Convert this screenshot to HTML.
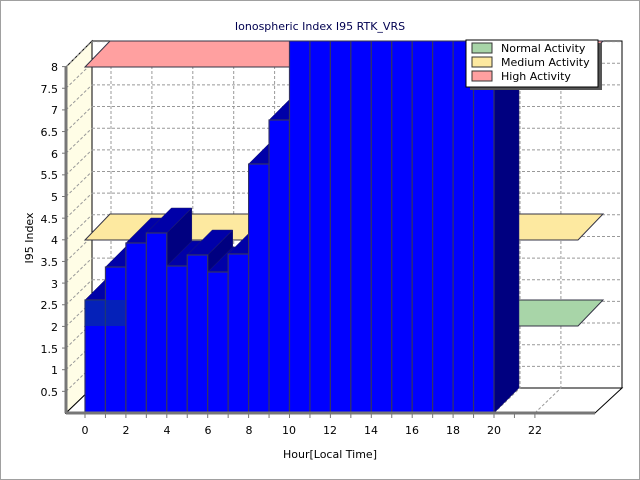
<!DOCTYPE html>
<html><head><meta charset="utf-8"><style>
html,body{margin:0;padding:0;background:#fff}
svg{display:block}
text{font-family:"DejaVu Sans","Liberation Sans",sans-serif;font-size:11px;fill:#000}
</style></head><body>
<svg id="s" width="640" height="480" xmlns="http://www.w3.org/2000/svg">
<defs><clipPath id="c"><rect x="0" y="41" width="640" height="440"/></clipPath></defs>
<rect x="0.5" y="0.5" width="639" height="479" fill="#fff" stroke="#a0a0a0"/>
<!-- back wall -->
<rect x="92" y="41" width="530" height="347" fill="#fff" stroke="#000"/>
<!-- left wall -->
<polygon points="66,67 92,41 92,388 66,413" fill="#fffde6" stroke="#000"/>
<!-- floor -->
<polygon points="66,413 92,388 622,388 595,413" fill="#fff" stroke="#000"/>
<g id="grid" stroke="#999" stroke-dasharray="3,2" fill="none"></g>
<!-- bands -->
<polygon points="85,326 110,300 603,300 578,326" fill="#a8d5a8" stroke="#334"/>
<polygon points="85,240 110,214 603,214 578,240" fill="#fde9a0" stroke="#334"/>
<polygon points="85,67 110,41 603,41 578,67" fill="#ffa0a0" stroke="#334"/>
<g id="bars" clip-path="url(#c)"></g>
<rect x="85" y="300" width="40" height="26" fill="#0a3c80" opacity="0.55"/>
<!-- axes -->
<line x1="66" y1="67" x2="66" y2="413" stroke="#777" stroke-width="3"/>
<line x1="66" y1="413" x2="595" y2="413" stroke="#777" stroke-width="3"/>
<g id="ticks" stroke="#777"></g>
<g text-anchor="end">
<text x="58" y="71">8</text><text x="58" y="93">7.5</text><text x="58" y="114">7</text><text x="58" y="136">6.5</text><text x="58" y="158">6</text><text x="58" y="179">5.5</text><text x="58" y="201">5</text><text x="58" y="223">4.5</text><text x="58" y="244">4</text><text x="58" y="266">3.5</text><text x="58" y="288">3</text><text x="58" y="309">2.5</text><text x="58" y="331">2</text><text x="58" y="353">1.5</text><text x="58" y="374">1</text><text x="58" y="396">0.5</text>
</g>
<g text-anchor="middle">
<text x="85" y="434">0</text><text x="126" y="434">2</text><text x="167" y="434">4</text><text x="208" y="434">6</text><text x="249" y="434">8</text><text x="289" y="434">10</text><text x="330" y="434">12</text><text x="371" y="434">14</text><text x="412" y="434">16</text><text x="453" y="434">18</text><text x="494" y="434">20</text><text x="535" y="434">22</text>
<text x="330" y="458">Hour[Local Time]</text>
<text x="320" y="30" style="fill:#000050">Ionospheric Index I95 RTK_VRS</text>
<text transform="translate(33,238) rotate(-90)">I95 Index</text>
</g>
<!-- legend -->
<rect x="470" y="43" width="132" height="47" fill="#555"/>
<rect x="466" y="40" width="132" height="47" fill="#fff" stroke="#000"/>
<rect x="472" y="43" width="20" height="10" fill="#a8d5a8" stroke="#333"/>
<rect x="472" y="57" width="20" height="10" fill="#fde9a0" stroke="#333"/>
<rect x="472" y="71" width="20" height="10" fill="#ffa0a0" stroke="#333"/>
<text x="501" y="52">Normal Activity</text>
<text x="501" y="66">Medium Activity</text>
<text x="501" y="80">High Activity</text>
</svg>
<script>
var NS="http://www.w3.org/2000/svg";
function el(p,t,a){var e=document.createElementNS(NS,t);for(var k in a)e.setAttribute(k,a[k]);p.appendChild(e);return e;}
var g=document.getElementById("grid");
for(var v=0.5;v<=8.01;v+=0.5){var y=388-43.3*v;el(g,"line",{x1:92,y1:y,x2:622,y2:y});el(g,"line",{x1:66,y1:y+25,x2:92,y2:y});}
for(var h=0;h<=22;h+=2){var x=85+20.45*h;el(g,"line",{x1:x+26,y1:41,x2:x+26,y2:388});el(g,"line",{x1:x,y1:413,x2:x+26,y2:388});}
var t=document.getElementById("ticks");
for(var v=0.5;v<=8.01;v+=0.5){var y=413-43.3*v;el(t,"line",{x1:62,y1:y,x2:66,y2:y});}
for(var h=0;h<=22;h++){var x=85+20.45*h;el(t,"line",{x1:x,y1:413,x2:x,y2:418});}
var tops=[300,267,243,233,266,255,272,254,164,120];
var b=document.getElementById("bars");
for(var i=0;i<20;i++){
 var x0=85+20.45*i,x1=x0+20.45,y=i<10?tops[i]:41,d=25;
 el(b,"polygon",{points:x1+","+y+" "+(x1+d)+","+(y-d)+" "+(x1+d)+","+(413-d)+" "+x1+",413",fill:"#000080",stroke:"#222266","stroke-width":0.5});
 el(b,"polygon",{points:x0+","+y+" "+(x0+d)+","+(y-d)+" "+(x1+d)+","+(y-d)+" "+x1+","+y,fill:"#0000a8",stroke:"#222266","stroke-width":0.5});
 el(b,"rect",{x:x0,y:y,width:20.45,height:413-y,fill:"#0000ff",stroke:"#333366","stroke-width":1.2});
}
</script>
</body></html>
